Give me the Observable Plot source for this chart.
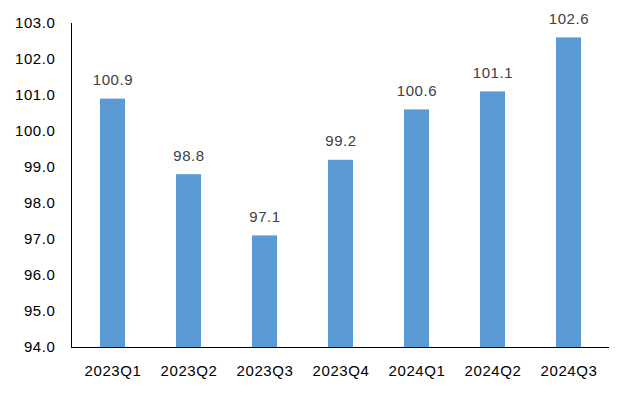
<!DOCTYPE html>
<html><head><meta charset="utf-8">
<script src="https://cdn.jsdelivr.net/npm/d3@7"></script>
<script src="https://cdn.jsdelivr.net/npm/@observablehq/plot@0.6"></script>
<style>body{margin:0;background:#fff;} svg{font-family:"Liberation Sans",Arial,sans-serif;} svg text{letter-spacing:0.6px;}</style>
</head><body><div id="chart"></div>
<script>
const quarters = ["2023Q1","2023Q2","2023Q3","2023Q4","2024Q1","2024Q2","2024Q3"];
const values = [100.9, 98.8, 97.1, 99.2, 100.6, 101.1, 102.6];
const yTicks = [94,95,96,97,98,99,100,101,102,103];
const data = quarters.map((q,i)=>({q, v: values[i]}));
const chart = Plot.plot({
  width: 632, height: 393,
  marginLeft: 71, marginRight: 23, marginTop: 23, marginBottom: 46,
  style: {fontSize: "15px", fontFamily: "Liberation Sans, Arial, sans-serif", color: "#000"},
  x: {domain: quarters, paddingInner: 0.675, paddingOuter: 0.3375, label: null, tickSize: 0, tickPadding: 18},
  y: {domain: [94,103], ticks: yTicks, tickFormat: d=>d.toFixed(1), label: null, tickSize: 0, tickPadding: 16},
  marks: [
    Plot.barY(data, {x: "q", y1: 94, y2: "v", fill: "#5B9BD5"}),
    Plot.text(data, {x: "q", y: "v", text: d=>d.v.toFixed(1), dy: -19, fill: "#404040", fontSize: 15}),
    Plot.ruleY([94], {stroke: "#000"})
  ]
});
document.getElementById("chart").append(chart);
const svg = d3.select(chart);
svg.append("line").attr("x1",71.5).attr("x2",71.5).attr("y1",23).attr("y2",347).attr("stroke","#000");
</script></body></html>
